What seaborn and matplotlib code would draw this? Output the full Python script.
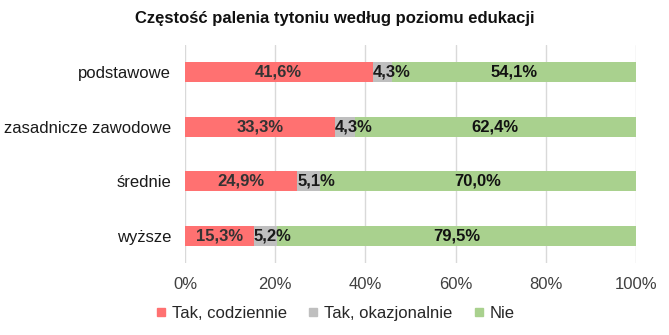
import matplotlib
matplotlib.use("Agg")
import matplotlib.pyplot as plt
import seaborn as sns
import pandas as pd
import numpy as np

categories = ["podstawowe", "zasadnicze zawodowe", "średnie", "wyższe"]
daily = [41.6, 33.3, 24.9, 15.3]
occasional = [4.3, 4.3, 5.1, 5.2]
never = [54.1, 62.4, 70.0, 79.5]
series_names = ["Tak, codziennie", "Tak, okazjonalnie", "Nie"]
colors = ["#FF7171", "#BFBFBF", "#A9D18E"]
label_colors = ["#333333", "#1a1a1a", "#111111"]

sns.set_theme(style="white")
plt.rcParams["font.family"] = ["Liberation Sans", "DejaVu Sans"]

df = pd.DataFrame({"cat": categories, "daily": daily, "occ": occasional, "never": never})
df["c1"] = df["daily"]
df["c2"] = df["daily"] + df["occ"]
df["c3"] = df["daily"] + df["occ"] + df["never"]

fig = plt.figure(figsize=(6.69, 3.35), dpi=100)
ax = fig.add_axes([0.2765, 0.215, 0.6742, 0.651])

for col, color in zip(["c3", "c2", "c1"], colors[::-1]):
    sns.barplot(data=df, x=col, y="cat", color=color, orient="h", width=0.37,
                ax=ax, saturation=1, zorder=3, linewidth=0)

ax.set_xlim(0, 100)
ax.set_xticks(np.arange(0, 101, 20))
ax.set_xticklabels([f"{v}%" for v in range(0, 101, 20)], fontsize=12, color="#404040")
ax.tick_params(axis="y", labelsize=12, colors="#1a1a1a", length=0, pad=10)
ax.tick_params(axis="x", length=0, pad=10)
ax.set_xlabel("")
ax.set_ylabel("")
ax.grid(axis="x", color="#D9D9D9", linewidth=1, zorder=0)
for s in ax.spines.values():
    s.set_visible(False)

starts = [np.zeros(4), np.array(daily), np.array(daily) + np.array(occasional)]
vals = [daily, occasional, never]
for i in range(4):
    for k in range(3):
        txt = f"{vals[k][i]:.1f}%".replace(".", ",")
        if k == 1:
            ax.text(starts[k][i], i, txt, ha="left", va="center", fontsize=12,
                    fontweight="bold", color=label_colors[k], zorder=5)
        else:
            x = starts[k][i] + vals[k][i] / 2
            ax.text(x, i, txt, ha="center", va="center", fontsize=12,
                    fontweight="bold", color=label_colors[k], zorder=5)

handles = [plt.Line2D([0], [0], marker="s", linestyle="", markersize=6,
                      markerfacecolor=c, markeredgecolor=c) for c in colors]
fig.legend(handles, series_names, loc="center", bbox_to_anchor=(0.5, 0.065), ncol=3,
           frameon=False, fontsize=12, handlelength=0.8, handletextpad=0.25,
           columnspacing=1.2, labelcolor="#262626")

fig.text(0.5, 0.945, "Częstość palenia tytoniu według poziomu edukacji", ha="center",
         va="center", fontsize=12, fontweight="bold", color="#111111")

fig.savefig("out.png", dpi=100)
